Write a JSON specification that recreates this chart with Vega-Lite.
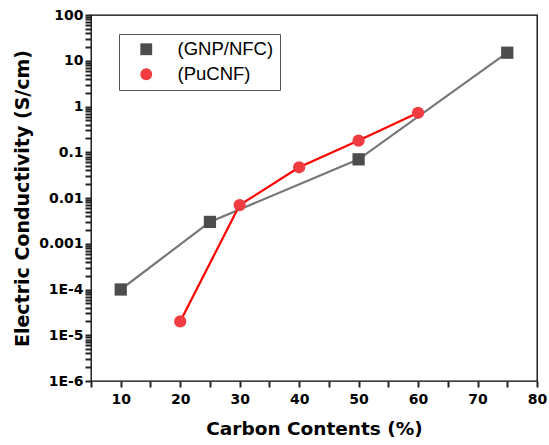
{
  "$schema": "https://vega.github.io/schema/vega-lite/v6.json",
  "width": 446,
  "height": 366,
  "autosize": {"type": "none"},
  "padding": {"left": 91, "top": 15, "right": 12, "bottom": 64},
  "background": "white",
  "config": {
    "view": {"stroke": "black", "strokeWidth": 1.3},
    "axis": {"tickColor": "#222222", "tickSize": 6, "tickWidth": 2, "grid": false}
  },
  "data": {
    "values": [
      {"series": "(GNP/NFC)", "carbon": 10, "cond": 0.0001},
      {"series": "(GNP/NFC)", "carbon": 25, "cond": 0.003},
      {"series": "(GNP/NFC)", "carbon": 50, "cond": 0.07},
      {"series": "(GNP/NFC)", "carbon": 75, "cond": 15},
      {"series": "(PuCNF)", "carbon": 20, "cond": 0.00002},
      {"series": "(PuCNF)", "carbon": 30, "cond": 0.007},
      {"series": "(PuCNF)", "carbon": 40, "cond": 0.047},
      {"series": "(PuCNF)", "carbon": 50, "cond": 0.18},
      {"series": "(PuCNF)", "carbon": 60, "cond": 0.73}
    ]
  },
  "encoding": {
    "x": {"field": "carbon", "type": "quantitative", "scale": {"domain": [5, 80], "nice": false, "zero": false},
      "axis": {"domain": false, "values": [5, 10, 15, 20, 25, 30, 35, 40, 45, 50, 55, 60, 65, 70, 75, 80],
        "labelExpr": "datum.value % 10 == 0 ? datum.label : ''", "labelFlush": false,
        "labelFont": "DejaVu Sans", "labelFontWeight": "bold", "labelFontSize": 14, "labelPadding": 5,
        "title": "Carbon Contents (%)", "titleFont": "DejaVu Sans", "titleFontWeight": "bold", "titleFontSize": 18.5, "titlePadding": 13}},
    "y": {"field": "cond", "type": "quantitative", "scale": {"type": "log", "domain": [0.000001, 100], "nice": false},
      "axis": {"domain": false,
        "values": [0.000001,0.000002,0.000003,0.000004,0.000005,0.000006,0.000007,0.000008,0.000009,
                   0.00001,0.00002,0.00003,0.00004,0.00005,0.00006,0.00007,0.00008,0.00009,
                   0.0001,0.0002,0.0003,0.0004,0.0005,0.0006,0.0007,0.0008,0.0009,
                   0.001,0.002,0.003,0.004,0.005,0.006,0.007,0.008,0.009,
                   0.01,0.02,0.03,0.04,0.05,0.06,0.07,0.08,0.09,
                   0.1,0.2,0.3,0.4,0.5,0.6,0.7,0.8,0.9,
                   1,2,3,4,5,6,7,8,9,
                   10,20,30,40,50,60,70,80,90,100],
        "labelExpr": "abs(log(datum.value) / LN10 - round(log(datum.value) / LN10)) > 0.001 ? '' : (datum.value >= 0.001 ? format(datum.value, '~g') : '1E' + round(log(datum.value) / LN10))",
        "labelFont": "DejaVu Sans", "labelFontWeight": "bold", "labelFontSize": 14, "labelPadding": 2,
        "title": "Electric Conductivity (S/cm)", "titleFont": "DejaVu Sans", "titleFontWeight": "bold", "titleFontSize": 19, "titlePadding": 6}}
  },
  "layer": [
    {
      "mark": {"type": "line", "strokeWidth": 2.2},
      "encoding": {
        "stroke": {"field": "series", "type": "nominal", "scale": {"domain": ["(GNP/NFC)", "(PuCNF)"], "range": ["#777777", "#ff0000"]},
          "legend": {"orient": "none", "legendX": 28, "legendY": 19, "title": null, "strokeColor": "#555555", "padding": 6, "rowPadding": 6, "symbolOffset": 12, "labelOffset": 22,
            "labelFontSize": 18.5, "labelColor": "black", "symbolSize": 140, "symbolStrokeWidth": 0, "labelLimit": 300}}
      }
    },
    {
      "mark": {"type": "point", "filled": true, "size": 150, "opacity": 1},
      "encoding": {
        "fill": {"field": "series", "type": "nominal", "scale": {"domain": ["(GNP/NFC)", "(PuCNF)"], "range": ["#4d4d4d", "#f03c40"]},
          "legend": {"orient": "none", "legendX": 28, "legendY": 19, "title": null, "strokeColor": "#555555", "padding": 6, "rowPadding": 6, "symbolOffset": 12, "labelOffset": 22,
            "labelFontSize": 18.5, "labelColor": "black", "symbolSize": 140, "symbolStrokeWidth": 0, "labelLimit": 300}},
        "shape": {"field": "series", "type": "nominal", "scale": {"domain": ["(GNP/NFC)", "(PuCNF)"], "range": ["square", "circle"]},
          "legend": {"orient": "none", "legendX": 28, "legendY": 19, "title": null, "strokeColor": "#555555", "padding": 6, "rowPadding": 6, "symbolOffset": 12, "labelOffset": 22,
            "labelFontSize": 18.5, "labelColor": "black", "symbolSize": 140, "symbolStrokeWidth": 0, "labelLimit": 300}}
      }
    }
  ]
}
